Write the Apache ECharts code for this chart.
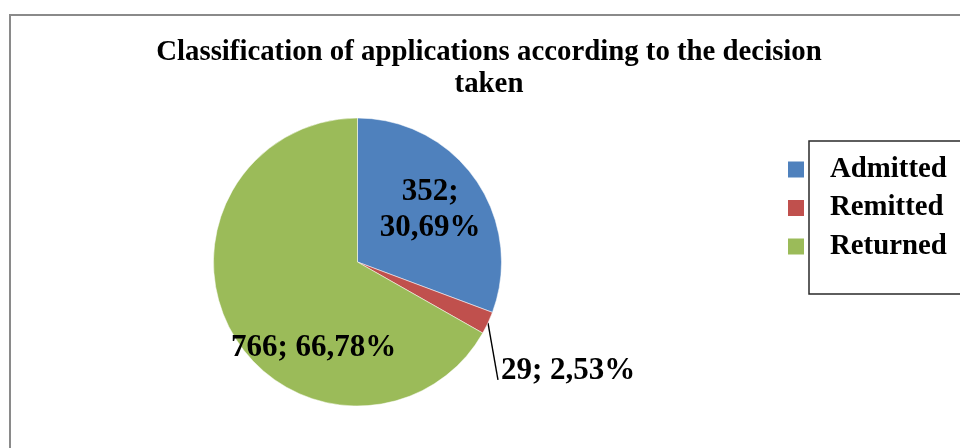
<!DOCTYPE html>
<html>
<head>
<meta charset="utf-8">
<title>Classification of applications according to the decision taken</title>
<script src="https://cdn.jsdelivr.net/npm/echarts@6/dist/echarts.min.js"></script>
<style>
  html, body { margin: 0; padding: 0; background: #ffffff; }
  #chart { width: 960px; height: 448px; }
</style>
</head>
<body>
<div id="chart"></div>
<script>
// Decision categories and number of applications in each
const categories = ['Admitted', 'Remitted', 'Returned'];
const counts = [352, 29, 766];
const sliceColors = ['#4F81BD', '#C0504D', '#9BBB59'];
const titleText = 'Classification of applications according to the decision\ntaken';

const serif = "'Liberation Serif', 'Times New Roman', serif";

function labelText(p) {
  const pct = p.percent.toFixed(2).replace('.', ',');
  const sep = p.dataIndex === 0 ? ';\n' : '; ';
  return p.value + sep + pct + '%';
}

const chart = echarts.init(document.getElementById('chart'), null, { renderer: 'canvas' });

chart.setOption({
  backgroundColor: '#ffffff',
  animation: false,
  title: {
    text: titleText,
    left: 489,
    top: 37,
    padding: 0,
    textAlign: 'center',
    textStyle: {
      fontFamily: serif,
      fontWeight: 'bold',
      fontSize: 28.8,
      lineHeight: 32,
      color: '#000000'
    }
  },
  legend: {
    orient: 'vertical',
    left: 788,
    top: 155,
    padding: 0,
    itemWidth: 16,
    itemHeight: 16,
    itemGap: 9.5,
    icon: 'rect',
    selectedMode: false,
    data: categories,
    itemStyle: { borderWidth: 0 },
    textStyle: {
      fontFamily: serif,
      fontWeight: 'bold',
      fontSize: 28.8,
      lineHeight: 28,
      color: '#000000',
      padding: [0, 0, 0, 21]
    }
  },
  graphic: [
    {
      // chart area frame
      type: 'rect',
      silent: true,
      shape: { x: 10, y: 15, width: 1000, height: 500 },
      style: { fill: null, stroke: '#8a8a8a', lineWidth: 2 }
    },
    {
      // legend frame
      type: 'rect',
      silent: true,
      shape: { x: 809, y: 141, width: 200, height: 153 },
      style: { fill: null, stroke: '#2a2a2a', lineWidth: 1.5 }
    }
  ],
  series: [
    {
      type: 'pie',
      center: [357.5, 262],
      radius: 144,
      startAngle: 90,
      clockwise: true,
      avoidLabelOverlap: false,
      itemStyle: { borderColor: '#ffffff', borderWidth: 0.5 },
      label: {
        position: 'inside',
        formatter: labelText,
        fontFamily: serif,
        fontWeight: 'bold',
        fontSize: 31,
        lineHeight: 36,
        color: '#000000'
      },
      labelLine: { show: false },
      labelLayout: function (params) {
        if (params.dataIndex === 0) {
          return { dx: 11, dy: -9 };
        }
        if (params.dataIndex === 2) {
          return { dx: 21, dy: 48 };
        }
        const pts = params.labelLinePoints;
        if (pts && pts.length) {
          const sx = pts[0][0], sy = pts[0][1];
          return {
            x: sx + 13,
            y: sy + 48,
            align: 'left',
            verticalAlign: 'middle',
            labelLinePoints: [[sx, sy], [sx + 10, sy + 57], [sx + 10, sy + 57]]
          };
        }
        return {};
      },
      data: categories.map(function (name, i) {
        const item = {
          name: name,
          value: counts[i],
          itemStyle: { color: sliceColors[i] }
        };
        if (i === 1) {
          item.label = { position: 'outside' };
          item.labelLine = {
            show: true,
            length: 10,
            length2: 10,
            lineStyle: { color: '#000000', width: 1.4 }
          };
        }
        return item;
      })
    }
  ]
});
</script>
</body>
</html>
